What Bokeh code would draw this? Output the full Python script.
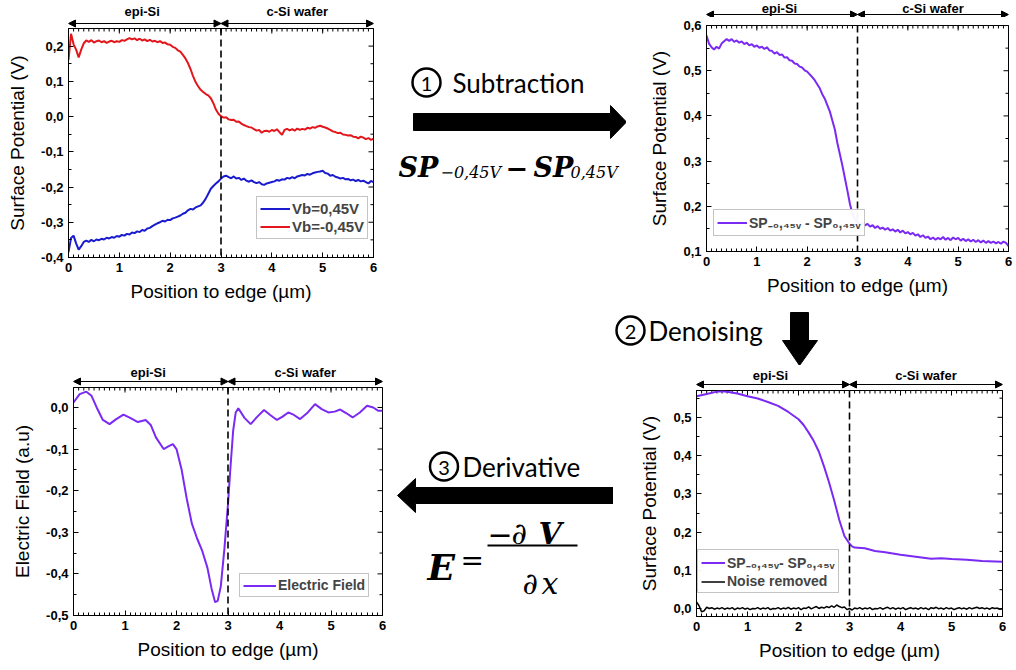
import math
from bokeh.plotting import figure
from bokeh.layouts import row, column
from bokeh.models import (Range1d, LinearAxis, FixedTicker, CustomJSTickFormatter, Span,
                          Arrow, NormalHead, Legend, LegendItem)
from bokeh.core.properties import value
from bokeh.embed import file_html
from bokeh.resources import INLINE

# ---------------- data ----------------
X_TICKS = [0, 1, 2, 3, 4, 5, 6]
X_GRID = [round(i * 0.05, 2) for i in range(121)]
BOUNDARY = 3
REGION_NAMES = ["epi-Si", "c-Si wafer"]
REGION_CENTERS = [1.45, 4.5]
REGION_EDGES = [(0, 3), (3, 6)]

A_RED = [0.160, 0.235, 0.205, 0.190, 0.168, 0.190, 0.208, 0.216, 0.212, 0.217,
         0.210, 0.214, 0.216, 0.211, 0.214, 0.209, 0.213, 0.215, 0.211, 0.214,
         0.212, 0.217, 0.215, 0.219, 0.223, 0.219, 0.222, 0.217, 0.221, 0.216,
         0.219, 0.214, 0.218, 0.213, 0.215, 0.211, 0.214, 0.209, 0.210, 0.205,
         0.204, 0.198, 0.195, 0.188, 0.184, 0.175, 0.165, 0.152, 0.135, 0.115,
         0.098, 0.086, 0.076, 0.070, 0.064, 0.060, 0.052, 0.038, 0.020, 0.008,
         0.001, -0.003, -0.002, -0.008, -0.010, -0.009, -0.015, -0.014, -0.020, -0.024,
         -0.027, -0.030, -0.031, -0.036, -0.040, -0.038, -0.046, -0.041, -0.040, -0.043,
         -0.038, -0.041, -0.036, -0.044, -0.052, -0.038, -0.035, -0.039, -0.036, -0.040,
         -0.034, -0.038, -0.035, -0.037, -0.032, -0.034, -0.030, -0.032, -0.028, -0.026,
         -0.029, -0.031, -0.034, -0.038, -0.042, -0.044, -0.047, -0.046, -0.051, -0.052,
         -0.054, -0.053, -0.057, -0.058, -0.062, -0.057, -0.060, -0.064, -0.061, -0.066,
         -0.063]
A_BLUE = [-0.385, -0.345, -0.338, -0.360, -0.378, -0.368, -0.356, -0.352, -0.356, -0.350,
          -0.354, -0.349, -0.351, -0.347, -0.349, -0.344, -0.346, -0.342, -0.344, -0.339,
          -0.341, -0.336, -0.338, -0.333, -0.335, -0.329, -0.331, -0.326, -0.328, -0.322,
          -0.324, -0.318, -0.316, -0.311, -0.307, -0.303, -0.300, -0.296, -0.298, -0.293,
          -0.294, -0.289, -0.287, -0.284, -0.281, -0.276, -0.273, -0.266, -0.262, -0.264,
          -0.258, -0.255, -0.252, -0.244, -0.233, -0.219, -0.205, -0.197, -0.190, -0.184,
          -0.176, -0.170, -0.168, -0.172, -0.175, -0.170, -0.176, -0.174, -0.180, -0.176,
          -0.182, -0.185, -0.181, -0.186, -0.189, -0.186, -0.192, -0.194, -0.190, -0.188,
          -0.186, -0.184, -0.180, -0.182, -0.178, -0.179, -0.174, -0.176, -0.172, -0.175,
          -0.170, -0.168, -0.166, -0.167, -0.163, -0.165, -0.161, -0.159, -0.157, -0.156,
          -0.154, -0.160, -0.162, -0.168, -0.166, -0.171, -0.173, -0.176, -0.174, -0.178,
          -0.177, -0.181, -0.179, -0.183, -0.180, -0.184, -0.182, -0.186, -0.190, -0.183,
          -0.186]
B_DIFF = [0.578, 0.560, 0.552, 0.547, 0.553, 0.549, 0.560, 0.565, 0.570, 0.566,
          0.570, 0.564, 0.567, 0.562, 0.565, 0.559, 0.562, 0.556, 0.559, 0.553,
          0.556, 0.551, 0.553, 0.548, 0.552, 0.545, 0.544, 0.538, 0.541, 0.535,
          0.536, 0.529, 0.530, 0.523, 0.522, 0.516, 0.515, 0.509, 0.507, 0.501,
          0.498, 0.492, 0.486, 0.479, 0.470, 0.461, 0.448, 0.438, 0.424, 0.410,
          0.390, 0.370, 0.340, 0.315, 0.290, 0.262, 0.234, 0.205, 0.183, 0.172,
          0.164, 0.160, 0.163, 0.158, 0.161, 0.155, 0.158, 0.152, 0.156, 0.150,
          0.153, 0.148, 0.152, 0.146, 0.149, 0.144, 0.148, 0.142, 0.146, 0.140,
          0.143, 0.138, 0.141, 0.135, 0.138, 0.132, 0.136, 0.130, 0.133, 0.127,
          0.131, 0.126, 0.130, 0.127, 0.132, 0.126, 0.130, 0.125, 0.131, 0.127,
          0.130, 0.124, 0.128, 0.123, 0.127, 0.122, 0.126, 0.121, 0.125, 0.120,
          0.124, 0.119, 0.123, 0.119, 0.122, 0.118, 0.121, 0.117, 0.122, 0.119,
          0.112]
C_X = [0, 0.12, 0.25, 0.35, 0.45, 0.57, 0.7, 0.83, 0.97, 1.1, 1.25, 1.4, 1.5, 1.6,
       1.75, 1.85, 1.93, 2.0, 2.1, 2.2, 2.3, 2.4, 2.5, 2.6, 2.68, 2.75, 2.8, 2.86,
       2.93, 3.0, 3.05, 3.1, 3.15, 3.2, 3.32, 3.44, 3.57, 3.7, 3.82, 3.95, 4.06,
       4.17, 4.28, 4.4, 4.55, 4.69, 4.82, 4.95, 5.07, 5.18, 5.3, 5.42, 5.56, 5.7,
       5.82, 5.92, 6.0]
C_FIELD = [0.012, 0.032, 0.038, 0.028, 0.0, -0.03, -0.04, -0.028, -0.017, -0.025,
           -0.035, -0.03, -0.042, -0.072, -0.1, -0.093, -0.088, -0.1, -0.15, -0.22,
           -0.28, -0.315, -0.345, -0.385, -0.435, -0.468, -0.465, -0.43, -0.34, -0.232,
           -0.14, -0.056, -0.012, -0.002, -0.025, -0.04, -0.022, -0.006, -0.018, -0.03,
           -0.022, -0.012, -0.018, -0.028, -0.012, 0.008, -0.004, -0.012, -0.01, -0.005,
           -0.014, -0.024, -0.012, 0.004, 0.0, -0.008, -0.008]
D_X = [0, 0.2, 0.4, 0.5, 0.6, 0.8, 1.0, 1.2, 1.4, 1.6, 1.8, 2.0, 2.1, 2.2, 2.3, 2.4,
       2.5, 2.6, 2.7, 2.8, 2.9, 3.0, 3.05, 3.1, 3.3, 3.5, 3.7, 4.0, 4.3, 4.6, 4.8,
       5.0, 5.3, 5.6, 6.0]
D_SMOOTH = [0.555, 0.561, 0.567, 0.568, 0.567, 0.562, 0.555, 0.549, 0.54, 0.53, 0.514,
            0.495, 0.48, 0.46, 0.438, 0.41, 0.372, 0.33, 0.283, 0.232, 0.19, 0.17, 0.163,
            0.16, 0.158, 0.151, 0.148, 0.141, 0.136, 0.131, 0.132, 0.13, 0.128, 0.125, 0.123]
D_NOISE = [0.018, 0.008, -0.008, -0.005, 0.004, 0.001, 0.003, -0.001, 0.002, 0.000,
           0.003, -0.001, 0.002, 0.000, 0.003, -0.002, 0.002, 0.000, 0.003, -0.001,
           0.002, -0.002, 0.001, 0.000, 0.003, -0.001, 0.002, 0.000, 0.003, -0.002,
           0.001, 0.000, 0.003, -0.001, 0.002, 0.000, 0.004, -0.001, 0.002, 0.000,
           0.003, -0.002, 0.002, 0.001, 0.005, 0.000, 0.003, 0.006, 0.001, 0.004,
           0.002, 0.006, 0.003, 0.008, 0.004, 0.010, 0.006, 0.003, 0.005, -0.002,
           0.001, -0.003, 0.002, 0.000, 0.003, -0.001, 0.002, 0.000, 0.003, -0.002,
           0.001, 0.000, 0.003, -0.001, 0.002, 0.004, 0.000, 0.003, -0.001, 0.002,
           0.000, 0.003, -0.002, 0.001, 0.003, 0.000, 0.002, -0.001, 0.003, 0.000,
           0.002, -0.002, 0.003, 0.001, 0.004, 0.000, 0.002, -0.001, 0.003, 0.000,
           0.002, -0.002, 0.001, 0.003, 0.000, 0.002, -0.001, 0.003, 0.000, 0.002,
           0.004, 0.001, 0.003, 0.000, 0.002, -0.001, 0.003, 0.001, 0.002, -0.001,
           0.001]

A_YTICKS = [-0.4, -0.3, -0.2, -0.1, 0.0, 0.1, 0.2]
B_YTICKS = [0.1, 0.2, 0.3, 0.4, 0.5, 0.6]
C_YTICKS = [-0.5, -0.4, -0.3, -0.2, -0.1, 0.0]
D_YTICKS = [0.0, 0.1, 0.2, 0.3, 0.4, 0.5]

LBL_A = ["Vb=0,45V", "Vb=-0,45V"]
LBL_DIFF = "SP\u208b\u2080,\u2084\u2085\u1d65 - SP\u2080,\u2084\u2085\u1d65"
LBL_DIFF_D = "SP\u208b\u2080,\u2084\u2085\u1d65- SP\u2080,\u2084\u2085\u1d65"
LBL_FIELD = "Electric Field"
LBL_NOISE = "Noise removed"
XLABEL = "Position to edge (\u00b5m)"
YLABEL_SP = "Surface Potential (V)"
YLABEL_E = "Electric Field (a.u)"

# ---------------- style ----------------
FONT = "Liberation Sans"
BLUE = "#1a1acf"
RED = "#e3161b"
PURPLE = "#7a2af2"
X_MINOR = [i / 10 for i in range(61)]


def style_axis(ax):
    ax.axis_line_color = "black"
    ax.major_tick_line_color = "black"
    ax.minor_tick_line_color = "black"
    ax.major_tick_in = 5
    ax.major_tick_out = 0
    ax.minor_tick_in = 3
    ax.minor_tick_out = 0
    ax.major_label_text_font = FONT
    ax.major_label_text_font_style = "bold"
    ax.major_label_text_font_size = "13px"
    ax.major_label_text_color = "black"
    ax.major_label_standoff = 5
    ax.axis_label_text_font = FONT
    ax.axis_label_text_font_style = "normal"
    ax.axis_label_text_font_size = "19px"
    ax.axis_label_text_color = "black"


def panel(xr, fw, fh, left, right, top, bottom, y0, y1, yticks, ylabel):
    p = figure(frame_width=fw, frame_height=fh, x_range=xr, y_range=Range1d(y0, y1),
               min_border_left=left, min_border_right=right, min_border_top=top,
               min_border_bottom=bottom, toolbar_location=None, output_backend="svg",
               x_axis_type=None, y_axis_type=None)
    p.outline_line_color = "black"
    yminor = [t + 0.05 for t in yticks] + [yticks[0] - 0.05]
    bx = LinearAxis(ticker=FixedTicker(ticks=X_TICKS, minor_ticks=X_MINOR),
                    axis_label=XLABEL, axis_label_standoff=6)
    style_axis(bx)
    ly = LinearAxis(ticker=FixedTicker(ticks=yticks, minor_ticks=yminor),
                    formatter=CustomJSTickFormatter(code="return tick.toFixed(1).replace('.', ',');"),
                    axis_label=ylabel, axis_label_standoff=10)
    style_axis(ly)
    p.add_layout(bx, "below")
    p.add_layout(ly, "left")
    # inward ticks on the top and right edges (half of each dash is clipped by the frame)
    p.scatter(X_TICKS, [y1] * len(X_TICKS), marker="dash", angle=math.pi / 2, size=10,
              line_color="black", line_width=1)
    p.scatter(X_MINOR, [y1] * len(X_MINOR), marker="dash", angle=math.pi / 2, size=6,
              line_color="black", line_width=1)
    p.scatter([6] * len(yticks), yticks, marker="dash", size=10, line_color="black",
              line_width=1)
    p.scatter([6] * len(yminor), yminor, marker="dash", size=6, line_color="black",
              line_width=1)
    p.add_layout(Span(location=BOUNDARY, dimension="height", line_color="black",
                      line_width=1.6, line_dash="7 4"))
    return p


def legend(p, items, loc, fs, gw):
    lg = Legend(items=[LegendItem(label=t, renderers=[r]) for t, r in items], location=loc,
                label_text_font=FONT, label_text_font_style="bold", label_text_font_size=fs,
                glyph_width=gw, glyph_height=15, label_height=15, label_standoff=2,
                padding=3, spacing=1, margin=0, border_line_color="#8a8a8a",
                border_line_width=1, background_fill_color="white")
    p.add_layout(lg)


def header(xr, fw, left, right, h, ty, ay):
    p = figure(frame_width=fw, frame_height=h, x_range=xr, y_range=Range1d(h, 0),
               min_border_left=left, min_border_right=right, min_border_top=0,
               min_border_bottom=0, toolbar_location=None, output_backend="svg",
               x_axis_type=None, y_axis_type=None)
    p.outline_line_color = None
    p.text(x=REGION_CENTERS, y=[ty] * 2, text=REGION_NAMES, text_font=value(FONT),
           text_font_style="bold", text_font_size="13px", text_align="center",
           text_baseline="middle", text_color="black")
    for a, b in REGION_EDGES:
        p.add_layout(Arrow(x_start=a, x_end=b, y_start=ay, y_end=ay, line_width=1.2,
                           line_color="black",
                           start=NormalHead(size=7, line_color="black", fill_color="black"),
                           end=NormalHead(size=7, line_color="black", fill_color="black")))
    return p


def deco(w, h):
    p = figure(width=w, height=h, x_range=Range1d(0, w), y_range=Range1d(h, 0),
               min_border=0, toolbar_location=None, output_backend="svg",
               x_axis_type=None, y_axis_type=None)
    p.outline_line_color = None
    return p


def step(p, cx, cy, num, label, lx):
    p.scatter(x=[cx], y=[cy], marker="circle", size=28, fill_color=None,
              line_color="black", line_width=2.5)
    p.text(x=[cx], y=[cy + 1], text=[num], text_font=value("Lato"), text_font_size="20px",
           text_align="center", text_baseline="middle", text_color="black")
    p.text(x=[lx], y=[cy], text=[label], text_font=value("Lato"), text_font_size="26px",
           text_align="left", text_baseline="middle", text_color="black")


def mtext(p, x, y, t, size, style):
    p.text(x=[x], y=[y], text=[t], text_font=value("DejaVu Serif"), text_font_style=style,
           text_font_size=size, text_align="left", text_baseline="alphabetic",
           text_color="black")


# ---------------- panel A ----------------
xrA = Range1d(0, 6)
hA = header(xrA, 305, 68, 25, 28, 11, 23)
pA = panel(xrA, 305, 229, 68, 25, 0, 49, -0.4001, 0.25, A_YTICKS, YLABEL_SP)
rb = pA.line(X_GRID, A_BLUE, line_color=BLUE, line_width=2)
rr = pA.line(X_GRID, A_RED, line_color=RED, line_width=2)
legend(pA, [(LBL_A[0], rb), (LBL_A[1], rr)], (188, 18), "15px", 30)

# ---------------- panel B ----------------
xrB = Range1d(0, 6)
hB = header(xrB, 302, 80, 6, 17, 8, 14)
pB = panel(xrB, 302, 226, 80, 6, 8, 55, 0.0999, 0.6001, B_YTICKS, YLABEL_SP)
rdiff = pB.line(X_GRID, B_DIFF, line_color=PURPLE, line_width=2)
legend(pB, [(LBL_DIFF, rdiff)], (7, 15), "14px", 30)

# ---------------- panel C ----------------
xrC = Range1d(0, 6)
hC = header(xrC, 309, 73, 10, 22, 7, 16)
pC = panel(xrC, 309, 228, 73, 10, 0, 53, -0.5001, 0.048, C_YTICKS, YLABEL_E)
rf = pC.line(C_X, C_FIELD, line_color=PURPLE, line_width=2)
legend(pC, [(LBL_FIELD, rf)], (166, 18), "14px", 33)

# ---------------- panel D ----------------
xrD = Range1d(0, 6)
hD = header(xrD, 306, 83, 12, 25, 10, 19)
pD = panel(xrD, 306, 226, 83, 12, 0, 52, -0.02, 0.57, D_YTICKS, YLABEL_SP)
rs = pD.line(D_X, D_SMOOTH, line_color=PURPLE, line_width=2)
rn = pD.line(X_GRID, D_NOISE, line_color="black", line_width=1.5)
legend(pD, [(LBL_DIFF_D, rs), (LBL_NOISE, rn)], (1, 23), "14px", 24)

# ---------------- step decorations ----------------
m1 = deco(228, 306)
step(m1, 28, 82, "1", "Subtraction", 54)
m1.patch([15, 212, 212, 228, 212, 212, 15], [113, 113, 105, 121.5, 138, 130, 130],
         color="black")
mtext(m1, 0, 167, "SP", "27px", "bold italic")
mtext(m1, 42, 172, "\u22120,45V", "16px", "italic")
mtext(m1, 107, 167, "\u2212", "27px", "bold")
mtext(m1, 135, 167, "SP", "27px", "bold italic")
mtext(m1, 172, 172, "0,45V", "16px", "italic")

strip = deco(1014, 59)
step(strip, 630, 24, "2", "Denoising", 648)
strip.patch([790, 808, 808, 817, 799, 782, 790], [6, 6, 34, 34, 59, 34, 34], color="black")

m2 = deco(221, 303)
step(m2, 51.5, 101, "3", "Derivative", 70)
m2.patch([5, 23, 23, 221, 221, 23, 23], [130, 113, 122, 122, 138, 138, 147], color="black")
mtext(m2, 35, 201, "E", "36px", "bold italic")
mtext(m2, 68, 195, "=", "28px", "normal")
mtext(m2, 95, 168, "\u2212", "30px", "normal")
mtext(m2, 119, 168, "\u2202", "30px", "italic")
mtext(m2, 146, 168, "V", "30px", "bold italic")
m2.line([95, 185], [180, 180], line_color="black", line_width=2)
mtext(m2, 130, 218, "\u2202", "30px", "italic")
mtext(m2, 149, 218, "x", "30px", "italic")

# ---------------- layout ----------------
colA = column(hA, pA)
colB = column(hB, pB)
colC = column(hC, pC)
colD = column(hD, pD)
layout = column(row(colA, m1, colB), strip, row(colC, m2, colD))

open("out.html", "w").write(file_html(layout, INLINE))
